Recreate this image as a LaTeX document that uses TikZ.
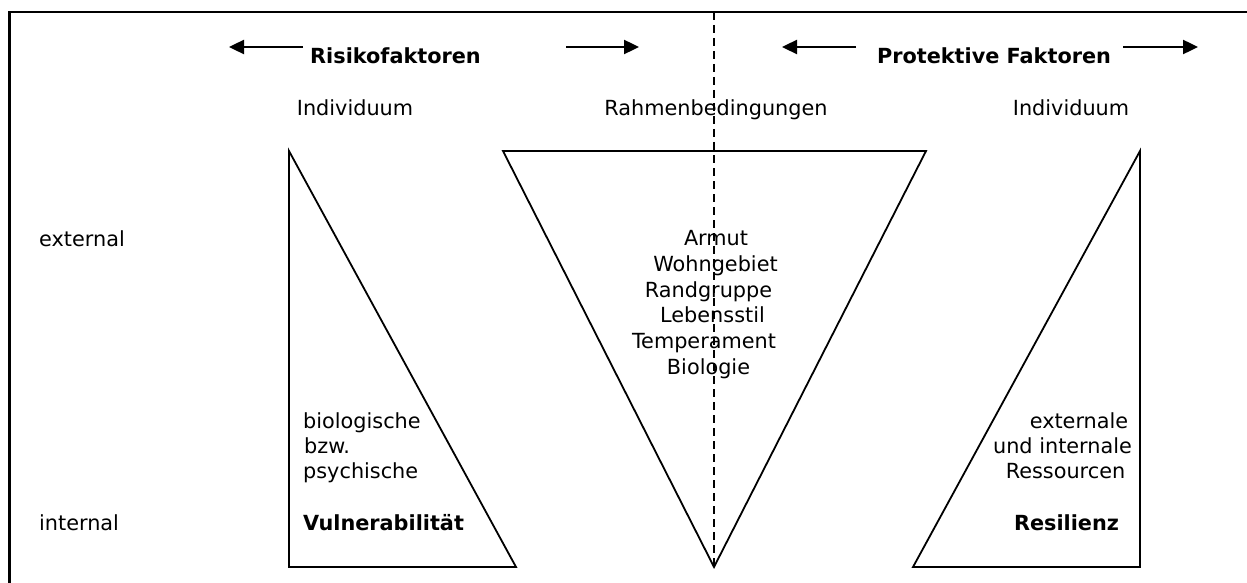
\documentclass[tikz,border=0pt]{standalone}
\usepackage{fontspec}
\setmainfont{DejaVu Sans}
\usetikzlibrary{arrows.meta}
\begin{document}
\begin{tikzpicture}[x=1pt,y=-1pt,
  txt/.style={inner sep=0pt, font=\fontsize{20.8}{25}\selectfont},
  btxt/.style={inner sep=0pt, font=\fontsize{20.8}{25}\selectfont\bfseries},
  tri/.style={line width=1.8pt, line join=miter},
  arr/.style={line width=2.4pt, -{Triangle[length=15pt,width=14pt]}},
  frame/.style={line width=2.2pt},
  divider/.style={line width=1.8pt, dash pattern=on 8pt off 5pt}
]
\useasboundingbox (0,0) rectangle (1247,583);
\clip (0,0) rectangle (1247,583);
% frame
\coordinate (F1) at (9.5,600);
\coordinate (F2) at (9.5,12);
\coordinate (F3) at (1260,12);
\draw[frame] (F1) -- (F2) -- (F3);
% triangles
\coordinate (L1) at (289,151);
\coordinate (L2) at (289,567);
\coordinate (L3) at (516,567);
\draw[tri] (L1) -- (L2) -- (L3) -- cycle;
\coordinate (V1) at (503,151);
\coordinate (V2) at (926,151);
\coordinate (V3) at (714,567);
\draw[tri] (V1) -- (V2) -- (V3) -- cycle;
\coordinate (R1) at (1140,151);
\coordinate (R2) at (1140,567);
\coordinate (R3) at (913,567);
\draw[tri] (R1) -- (R2) -- (R3) -- cycle;
% dashed divider
\coordinate (D1) at (714,12);
\draw[divider] (D1) -- (V3);
% header arrows
\coordinate (a1s) at (303,47); \coordinate (a1e) at (229,47);
\coordinate (a2s) at (566,47); \coordinate (a2e) at (639,47);
\coordinate (a3s) at (856,47); \coordinate (a3e) at (782,47);
\coordinate (a4s) at (1123,47); \coordinate (a4e) at (1198,47);
\draw[arr] (a1s) -- (a1e);
\draw[arr] (a2s) -- (a2e);
\draw[arr] (a3s) -- (a3e);
\draw[arr] (a4s) -- (a4e);
% headers
\node[btxt, anchor=base] (risk) at (395.5,64) {Risikofaktoren};
\node[btxt, anchor=base] (prot) at (994,64) {Protektive Faktoren};
\node[txt, anchor=base] (ind1) at (355,115.5) {Individuum};
\node[txt, anchor=base] (rahmen) at (716,115.5) {Rahmenbedingungen};
\node[txt, anchor=base] (ind2) at (1071,115.5) {Individuum};
% row labels
\node[txt, anchor=base west] (ext) at (39,246) {external};
\node[txt, anchor=base west] (int) at (39,530.5) {internal};
% V content
\node[txt, anchor=base] (v1) at (716,245.5) {Armut};
\node[txt, anchor=base] (v2) at (715.5,271.3) {Wohngebiet};
\node[txt, anchor=base] (v3) at (708.5,297.1) {Randgruppe};
\node[txt, anchor=base] (v4) at (712.5,322.9) {Lebensstil};
\node[txt, anchor=base] (v5) at (704,348.7) {Temperament};
\node[txt, anchor=base] (v6) at (708.5,374.5) {Biologie};
% left triangle text
\node[txt, anchor=base west] (l1) at (303,428) {biologische};
\node[txt, anchor=base west] (l2) at (304,453) {bzw.};
\node[txt, anchor=base west] (l3) at (303,478) {psychische};
\node[btxt, anchor=base west] (vul) at (303,530) {Vulnerabilität};
% right triangle text
\node[txt, anchor=base] (r1) at (1079,428) {externale};
\node[txt, anchor=base] (r2) at (1062.5,453) {und internale};
\node[txt, anchor=base] (r3) at (1065.5,478) {Ressourcen};
\node[btxt, anchor=base] (res) at (1066.5,530) {Resilienz};
\end{tikzpicture}
\end{document}
